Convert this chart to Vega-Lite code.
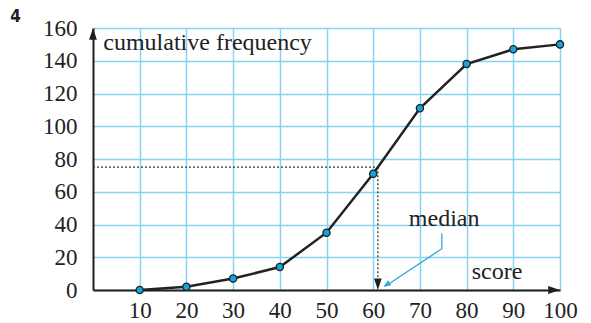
{
  "$schema": "https://vega.github.io/schema/vega-lite/v6.json",
  "width": 467,
  "height": 262,
  "autosize": "none",
  "padding": {"left": 93, "top": 28, "right": 31, "bottom": 33},
  "background": "white",
  "config": {"view": {"stroke": null}},
  "datasets": {
    "curve": [
      {"x": 10, "y": 0}, {"x": 20, "y": 2}, {"x": 30, "y": 7}, {"x": 40, "y": 14},
      {"x": 50, "y": 35}, {"x": 60, "y": 71}, {"x": 70, "y": 111}, {"x": 80, "y": 138},
      {"x": 90, "y": 147}, {"x": 100, "y": 150}
    ],
    "dotted": [
      {"x": 0, "y": 75, "x2": 61, "y2": 75},
      {"x": 61, "y": 75, "x2": 61, "y2": 3}
    ],
    "pointer": [
      {"x": 74.7, "y": 34.6, "o": 1},
      {"x": 74.7, "y": 25.2, "o": 2},
      {"x": 62.6, "y": 2.3, "o": 3}
    ],
    "pointerHead": [{"x": 62.2, "y": 2.0}],
    "arrowUp": [{"x": 0, "y": 160}],
    "arrowRight": [{"x": 100, "y": 0}],
    "arrowDown": [{"x": 61, "y": 0}],
    "leftLabel": [{"x": 2.2, "y": 150.8, "t": "cumulative frequency"}],
    "centerLabels": [
      {"x": 75.2, "y": 43.5, "t": "median"},
      {"x": 86.5, "y": 10.8, "t": "score"}
    ],
    "num": [{"x": -16.6, "y": 166.5, "t": "4"}]
  },
  "encoding": {
    "x": {
      "field": "x", "type": "quantitative",
      "scale": {"domain": [0, 100], "nice": false, "zero": false},
      "axis": {
        "values": [10, 20, 30, 40, 50, 60, 70, 80, 90, 100],
        "title": null, "grid": true, "gridColor": "#86d3f3", "gridWidth": 1.5,
        "ticks": false, "domainColor": "#1e1e1e", "domainWidth": 2,
        "labelFont": "Liberation Serif", "labelFontSize": 23, "labelColor": "#222",
        "labelPadding": 9, "labelFlush": false, "labelOverlap": false, "labelBound": false
      }
    },
    "y": {
      "field": "y", "type": "quantitative",
      "scale": {"domain": [0, 160], "nice": false, "zero": false},
      "axis": {
        "values": [0, 20, 40, 60, 80, 100, 120, 140, 160],
        "title": null, "grid": true, "gridColor": "#86d3f3", "gridWidth": 1.5,
        "ticks": false, "domainColor": "#1e1e1e", "domainWidth": 2,
        "labelFont": "Liberation Serif", "labelFontSize": 23, "labelColor": "#222",
        "labelPadding": 16, "labelFlush": false, "labelOverlap": false, "labelBound": false
      }
    }
  },
  "layer": [
    {
      "data": {"name": "dotted"},
      "mark": {"type": "rule", "color": "#333", "strokeWidth": 1.3, "strokeDash": [2, 2]},
      "encoding": {"x2": {"field": "x2"}, "y2": {"field": "y2"}}
    },
    {
      "data": {"name": "pointer"},
      "mark": {"type": "line", "color": "#2aa8e0", "strokeWidth": 1.3},
      "encoding": {"order": {"field": "o"}}
    },
    {
      "data": {"name": "pointerHead"},
      "mark": {"type": "point", "shape": "M0,0L-0.4,1L0.4,1Z", "angle": 237, "size": 220, "filled": true, "color": "#2aa8e0", "opacity": 1}
    },
    {
      "data": {"name": "curve"},
      "mark": {"type": "line", "color": "#222", "strokeWidth": 2.5}
    },
    {
      "data": {"name": "curve"},
      "mark": {"type": "point", "filled": true, "fill": "#14a4e0", "stroke": "#1e1e1e", "strokeWidth": 1.3, "size": 52, "opacity": 1}
    },
    {
      "data": {"name": "arrowUp"},
      "mark": {"type": "point", "shape": "M0,0L-0.33,1L0.33,1Z", "size": 560, "filled": true, "color": "#1e1e1e", "opacity": 1}
    },
    {
      "data": {"name": "arrowRight"},
      "mark": {"type": "point", "shape": "M0,0L-1,-0.33L-1,0.33Z", "size": 560, "filled": true, "color": "#1e1e1e", "opacity": 1}
    },
    {
      "data": {"name": "arrowDown"},
      "mark": {"type": "point", "shape": "M0,0L-0.33,-1L0.33,-1Z", "size": 520, "filled": true, "color": "#1e1e1e", "opacity": 1}
    },
    {
      "data": {"name": "leftLabel"},
      "mark": {"type": "text", "font": "Liberation Serif", "fontSize": 24, "color": "#222", "baseline": "middle", "align": "left"},
      "encoding": {"text": {"field": "t"}}
    },
    {
      "data": {"name": "centerLabels"},
      "mark": {"type": "text", "font": "Liberation Serif", "fontSize": 24, "color": "#222", "baseline": "middle", "align": "center"},
      "encoding": {"text": {"field": "t"}}
    },
    {
      "data": {"name": "num"},
      "mark": {"type": "text", "font": "DejaVu Sans Condensed", "fontWeight": "bold", "fontSize": 17, "color": "#222", "baseline": "middle", "align": "center"},
      "encoding": {"text": {"field": "t"}}
    }
  ]
}
